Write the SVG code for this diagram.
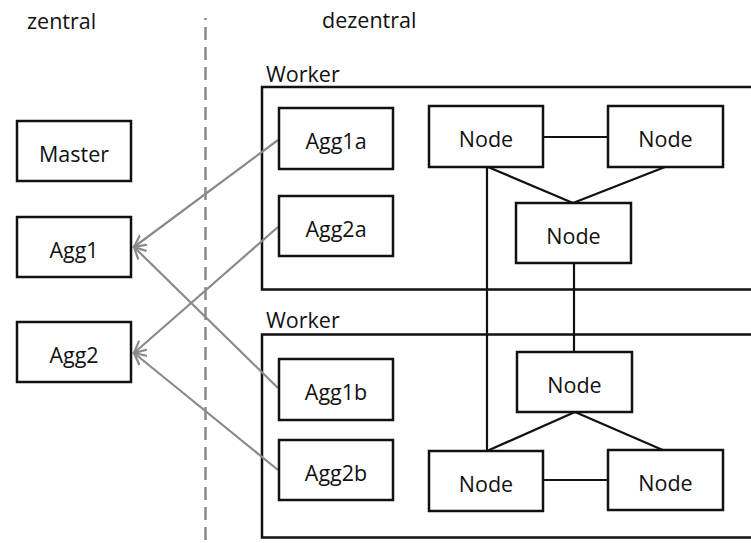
<svg xmlns="http://www.w3.org/2000/svg" width="751" height="543" viewBox="0 0 751 543">
<style>
.box{fill:#fff;stroke:#111;stroke-width:2.5}
.wk{fill:none;stroke:#111;stroke-width:2.5}
.t{font-family:"Open Sans","Liberation Sans",sans-serif;font-size:21.5px;fill:#111;text-anchor:middle}
.lbl{font-family:"Open Sans","Liberation Sans",sans-serif;font-size:21.5px;fill:#111}
.edge{fill:none;stroke:#111;stroke-width:2.2}
.arr{fill:none;stroke:#8a8a8a;stroke-width:2.2;marker-end:url(#ah)}
</style>
<defs>
<marker id="ah" markerUnits="userSpaceOnUse" markerWidth="14" markerHeight="14" refX="12" refY="6" orient="auto" viewBox="0 0 14 12">
<path d="M0,0 L12,6 L0,12" fill="none" stroke="#8a8a8a" stroke-width="2.2"/>
</marker>
</defs>
<rect width="751" height="543" fill="#fff"/>
<text class="lbl" x="27" y="29">zentral</text>
<text class="lbl" x="322" y="28">dezentral</text>
<line x1="205.5" y1="18" x2="205.5" y2="543" stroke="#8a8a8a" stroke-width="2.5" stroke-dasharray="13 7" stroke-dashoffset="-9"/>

<g id="worker1">
<text class="lbl" x="266" y="82">Worker</text>
<rect class="wk" x="262" y="87" width="520" height="202.5"/>
</g>
<g id="worker2">
<text class="lbl" x="266" y="328">Worker</text>
<rect class="wk" x="262" y="334.5" width="520" height="203"/>
</g>

<g id="connectors">
<line class="edge" x1="543" y1="137" x2="608" y2="137"/>
<line class="edge" x1="488" y1="167" x2="573" y2="203"/>
<line class="edge" x1="665" y1="167" x2="573" y2="203"/>
<line class="edge" x1="487" y1="167" x2="487" y2="451"/>
<line class="edge" x1="574" y1="263" x2="574" y2="352"/>
<line class="edge" x1="575" y1="412" x2="487" y2="451"/>
<line class="edge" x1="575" y1="412" x2="665" y2="451"/>
<line class="edge" x1="543" y1="480" x2="608" y2="480"/>
<line class="arr" x1="278" y1="140" x2="134" y2="247"/>
<line class="arr" x1="278" y1="227" x2="134" y2="353"/>
<line class="arr" x1="278" y1="388" x2="134" y2="247"/>
<line class="arr" x1="278" y1="470" x2="134" y2="353"/>
</g>

<g id="master"><rect class="box" x="17" y="121" width="114" height="60"/><text class="t" x="74" y="161.5">Master</text></g>
<g id="agg1"><rect class="box" x="17" y="217" width="114" height="60"/><text class="t" x="74" y="257.5">Agg1</text></g>
<g id="agg2"><rect class="box" x="17" y="322" width="114" height="60"/><text class="t" x="74" y="362.5">Agg2</text></g>

<g id="agg1a"><rect class="box" x="279" y="108" width="114" height="61"/><text class="t" x="336" y="149">Agg1a</text></g>
<g id="agg2a"><rect class="box" x="279" y="196" width="114" height="60"/><text class="t" x="336" y="236.5">Agg2a</text></g>
<g id="agg1b"><rect class="box" x="279" y="359" width="114" height="61"/><text class="t" x="336" y="400">Agg1b</text></g>
<g id="agg2b"><rect class="box" x="279" y="440" width="114" height="60"/><text class="t" x="336" y="480.5">Agg2b</text></g>

<g id="nodeA"><rect class="box" x="429" y="106" width="114" height="61"/><text class="t" x="486" y="147">Node</text></g>
<g id="nodeB"><rect class="box" x="608" y="106" width="115" height="61"/><text class="t" x="665.5" y="147">Node</text></g>
<g id="nodeC"><rect class="box" x="516" y="203" width="115" height="60"/><text class="t" x="573.5" y="243.5">Node</text></g>
<g id="nodeD"><rect class="box" x="517" y="352" width="115" height="60"/><text class="t" x="574.5" y="392.5">Node</text></g>
<g id="nodeE"><rect class="box" x="429" y="451" width="114" height="60"/><text class="t" x="486" y="491.5">Node</text></g>
<g id="nodeF"><rect class="box" x="608" y="450" width="115" height="60"/><text class="t" x="665.5" y="490.5">Node</text></g>
</svg>
